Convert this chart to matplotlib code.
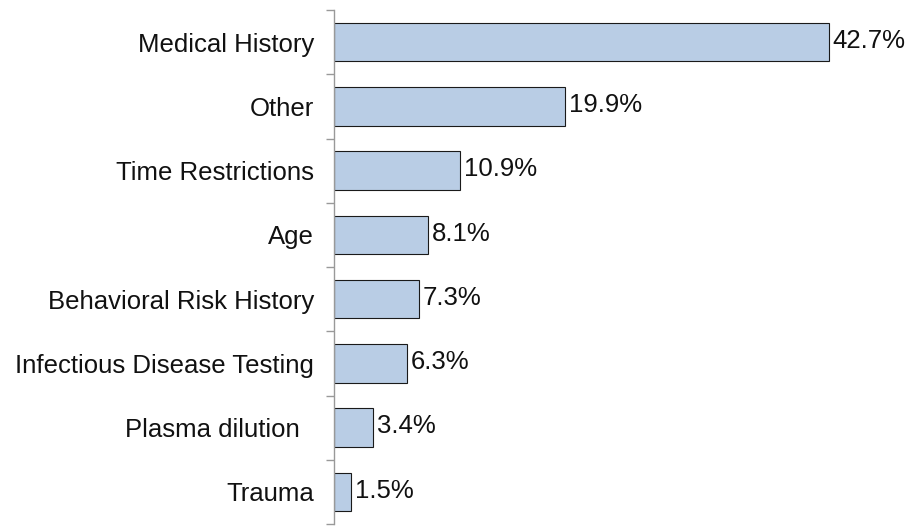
import matplotlib
matplotlib.use("Agg")
import matplotlib.pyplot as plt
import numpy as np

categories = ["Medical History", "Other", "Time Restrictions", "Age",
              "Behavioral Risk History", "Infectious Disease Testing",
              "Plasma dilution  ", "Trauma"]
values = [42.7, 19.9, 10.9, 8.1, 7.3, 6.3, 3.4, 1.5]
value_labels = ["42.7%", "19.9%", "10.9%", "8.1%", "7.3%", "6.3%", "3.4%", "1.5%"]

plt.rcParams['font.family'] = ['Liberation Sans', 'DejaVu Sans']

fig = plt.figure(figsize=(9.1, 5.29), dpi=100)
ax = fig.add_axes([334/910, 5/529, (890-334)/910, (524-10)/529])

y = np.arange(len(categories))
ax.barh(y, values, height=0.6, color="#B9CDE5", edgecolor="#1a1a1a", linewidth=0.8)
ax.set_ylim(len(categories) - 0.5, -0.5)
ax.set_xlim(0, 48)

for yi, v, lab in zip(y, values, value_labels):
    ax.text(v + 0.35, yi - 0.02, lab, va="center", ha="left", fontsize=18.5, color="#111111")

ax.set_yticks(y)
ax.set_yticklabels(categories, fontsize=18.5, color="#111111")
ax.tick_params(axis="y", which="major", length=0, pad=14.5)
ax.set_yticks(np.arange(-0.5, len(categories) + 0.5, 1), minor=True)
ax.tick_params(axis="y", which="minor", length=6, color="#999999", width=1)

ax.set_xticks([])
for s in ["top", "right", "bottom"]:
    ax.spines[s].set_visible(False)
ax.spines["left"].set_color("#999999")
ax.spines["left"].set_linewidth(1)

fig.savefig("out.png", dpi=100)
